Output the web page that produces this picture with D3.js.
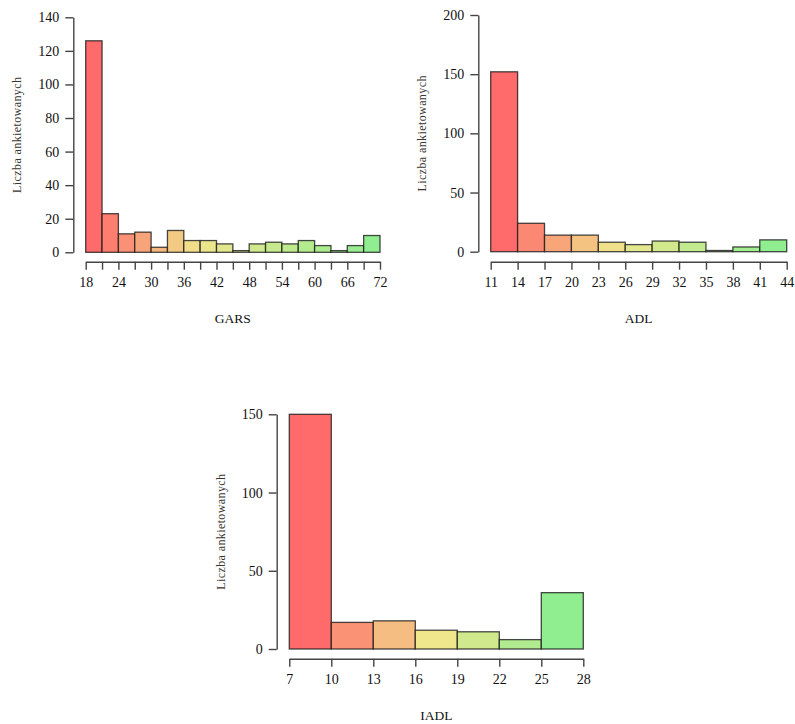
<!DOCTYPE html>
<html>
<head>
<meta charset="utf-8">
<script src="https://cdn.jsdelivr.net/npm/d3@7"></script>
<style>
  body { margin: 0; background: #fff; }
  svg text { font-family: "Liberation Serif", "Times New Roman", serif; }
</style>
</head>
<body>
<svg id="chart" width="795" height="724"></svg>
<script>
// Data (bin edges + counts)
var garsBreaks = [18,21,24,27,30,33,36,39,42,45,48,51,54,57,60,63,66,69,72];
var garsCounts = [126,23,11,12,3,13,7,7,5,1,5,6,5,7,4,1,4,10];
var garsYTicks = [0,20,40,60,80,100,120,140];

var adlBreaks = [11,14,17,20,23,26,29,32,35,38,41,44];
var adlCounts = [152,24,14,14,8,6,9,8,1,4,10];
var adlYTicks = [0,50,100,150,200];

var iadlBreaks = [7,10,13,16,19,22,25,28];
var iadlCounts = [150,17,18,12,11,6,36];
var iadlYTicks = [0,50,100,150];

var yTitle = "Liczba ankietowanych";

// colour ramp: indianred1 -> khaki -> lightgreen (mid = where khaki sits)
function ramp(n,mid){
  var c = d3.scaleLinear().domain([0,mid,1]).range(["#FF6A6A","#F0E68C","#90EE90"]).interpolate(d3.interpolateRgb);
  return d3.range(n).map(function(i){ return c(n==1 ? 0 : i/(n-1)); });
}

var svg = d3.select("#chart");

// panel geometry
var panels = [
  {name:"GARS", breaks:garsBreaks, counts:garsCounts, yticks:garsYTicks, labelEvery:2, mid:0.38,
   x0:85.7, x1:380, y0:252.3, y1:17.3, yAxisX:73.3, xAxisY:261.7},
  {name:"ADL", breaks:adlBreaks, counts:adlCounts, yticks:adlYTicks, labelEvery:1, mid:0.42,
   x0:490.7, x1:786.7, y0:251.7, y1:15, yAxisX:478.3, xAxisY:261.7},
  {name:"IADL", breaks:iadlBreaks, counts:iadlCounts, yticks:iadlYTicks, labelEvery:1, mid:0.5,
   x0:289.3, x1:583.3, y0:649, y1:414.3, yAxisX:276.7, xAxisY:658.7}
];

function drawHist(p){
  var g = svg.append("g").attr("class","panel");
  var x = d3.scaleLinear().domain([p.breaks[0], p.breaks[p.breaks.length-1]]).range([p.x0,p.x1]);
  var y = d3.scaleLinear().domain([p.yticks[0], p.yticks[p.yticks.length-1]]).range([p.y0,p.y1]);
  var cols = ramp(p.counts.length, p.mid);

  g.selectAll(".bar")
    .data(p.counts)
    .enter().append("rect")
    .attr("class","bar")
    .attr("x",function(d,i){return x(p.breaks[i]);})
    .attr("width",function(d,i){return x(p.breaks[i+1])-x(p.breaks[i]);})
    .attr("y",function(d){return y(d);})
    .attr("height",function(d){return y(0)-y(d);})
    .style("fill",function(d,i){return cols[i];})
    .style("stroke","#1a1a1a")
    .style("stroke-opacity","0.8")
    .style("stroke-width","1.3");

  // y axis
  var ya = g.append("g")
    .attr("transform","translate("+p.yAxisX+",0)")
    .call(d3.axisLeft(y).tickValues(p.yticks).tickSize(8).tickSizeOuter(0).tickPadding(6));
  // x axis
  var xa = g.append("g")
    .attr("transform","translate(0,"+p.xAxisY+")")
    .call(d3.axisBottom(x).tickValues(p.breaks).tickSize(8).tickSizeOuter(0).tickPadding(7)
      .tickFormat(function(d,i){ return (i % p.labelEvery == 0) ? d : ""; }));

  [ya,xa].forEach(function(a){
    a.select(".domain").attr("stroke","#444").attr("stroke-width",1.4);
    a.selectAll(".tick line").attr("stroke","#444").attr("stroke-width",1.4);
    a.selectAll(".tick text").attr("fill","#111").style("font-size","14px")
      .style("font-family","'Liberation Serif', serif");
  });

  // titles
  g.append("text")
    .attr("x",(p.x0+p.x1)/2)
    .attr("y",p.xAxisY+61)
    .attr("text-anchor","middle")
    .style("font-size","13.5px")
    .attr("fill","#111")
    .text(p.name);

  g.append("text")
    .attr("transform","translate("+(p.yAxisX-52)+","+((p.y0+p.y1)/2)+") rotate(-90)")
    .attr("text-anchor","middle")
    .style("font-size","12px")
    .style("letter-spacing","0.4px")
    .attr("fill","#3a3530")
    .text(yTitle);
}

panels.forEach(drawHist);
</script>
</body>
</html>
